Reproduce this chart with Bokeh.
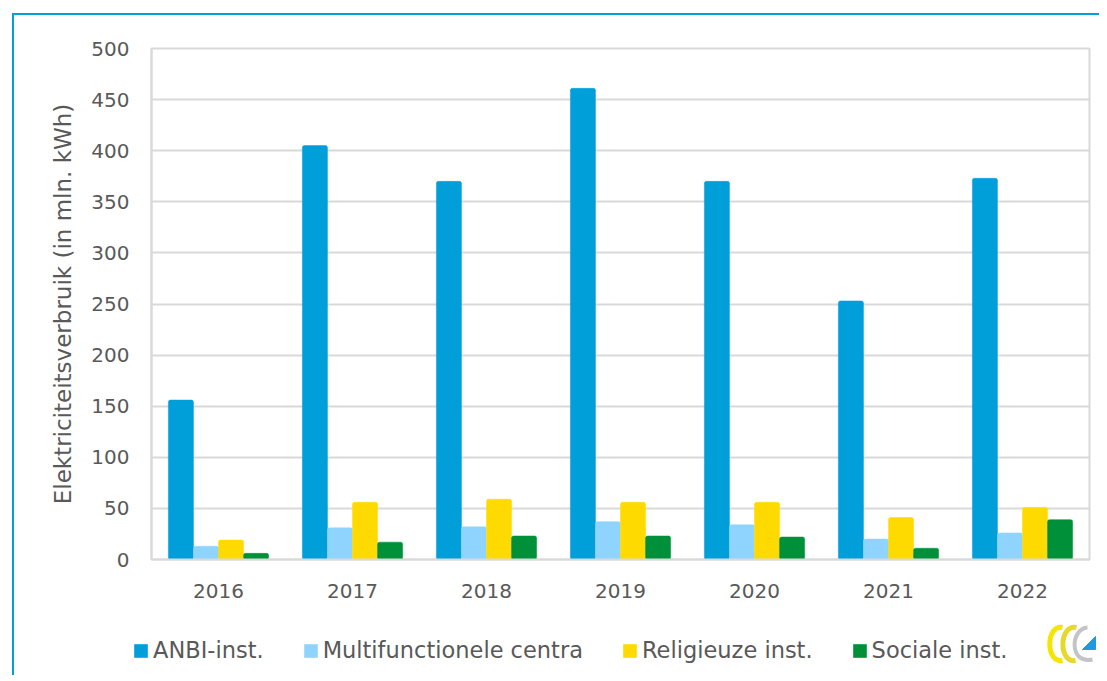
from bokeh.plotting import figure
from bokeh.models import ColumnDataSource, FactorRange, Legend, LegendItem, SingleIntervalTicker, Range1d
from bokeh.transform import dodge
from bokeh.layouts import column
from bokeh.embed import file_html
from bokeh.resources import INLINE

years = ["2016", "2017", "2018", "2019", "2020", "2021", "2022"]
anbi = [156, 405, 370, 461, 370, 253, 373]
multi = [13, 31, 32, 37, 34, 20, 26]
relig = [19, 56, 59, 56, 56, 41, 51]
sociaal = [6, 17, 23, 23, 22, 11, 39]
series_names = ["ANBI-inst.", "Multifunctionele centra", "Religieuze inst.", "Sociale inst."]
series_keys = ["anbi", "multi", "relig", "sociaal"]
colors = ["#009FDA", "#8FD4FF", "#FFDA00", "#00903A"]
y_label = "Elektriciteitsverbruik (in mln. kWh)"

FONT = "DejaVu Sans"
TXT = "#595959"
GRID = "#D9D9D9"
W = 1085
NAN = float("nan")

source = ColumnDataSource(dict(years=years, anbi=anbi, multi=multi, relig=relig, sociaal=sociaal))

# ---------------- main chart ----------------
p = figure(width=W, height=600, x_range=FactorRange(*years), y_range=Range1d(0, 500),
           output_backend="svg", toolbar_location=None,
           min_border_left=137, min_border_right=10, min_border_top=33, min_border_bottom=56)
p.frame_align = False

bw = 0.187
offsets = [-1.5 * bw, -0.5 * bw, 0.5 * bw, 1.5 * bw]
for key, off, col in zip(series_keys, offsets, colors):
    p.vbar(x=dodge("years", off, range=p.x_range), top=key, width=bw, source=source,
           fill_color=col, line_color=col, line_width=0.5, border_radius=2)

p.outline_line_color = GRID
p.outline_line_width = 2
p.background_fill_color = "white"
p.border_fill_color = "white"

p.xgrid.grid_line_color = None
p.ygrid.grid_line_color = GRID
p.ygrid.grid_line_width = 2
p.yaxis.ticker = SingleIntervalTicker(interval=50)

for ax in (p.xaxis, p.yaxis):
    ax.major_tick_line_color = None
    ax.minor_tick_line_color = None
    ax.major_label_text_font = FONT
    ax.major_label_text_font_size = "20px"
    ax.major_label_text_color = TXT
p.xaxis.axis_line_color = GRID
p.xaxis.axis_line_width = 2
p.yaxis.axis_line_color = GRID
p.yaxis.axis_line_width = 2
p.xaxis.major_label_standoff = 18
p.yaxis.major_label_standoff = 16
p.yaxis.axis_label = y_label
p.yaxis.axis_label_text_font = FONT
p.yaxis.axis_label_text_font_size = "23px"
p.yaxis.axis_label_text_font_style = "normal"
p.yaxis.axis_label_text_color = TXT
p.yaxis.axis_label_standoff = 12

# ---------------- legend strip (page pixel coordinates) ----------------
H2 = 60
top2 = 615
q = figure(width=W, height=H2, x_range=Range1d(14, 14 + W), y_range=Range1d(top2 + H2, top2),
           output_backend="svg", toolbar_location=None, x_axis_type=None, y_axis_type=None,
           min_border=0)
q.frame_align = False
q.outline_line_color = None
q.xgrid.grid_line_color = None
q.ygrid.grid_line_color = None
q.background_fill_color = "white"
q.border_fill_color = "white"

swatches = []
for col in colors:
    swatches.append(q.rect(x=[NAN], y=[NAN], width=1, height=1, fill_color=col, line_color=None))

items = [LegendItem(label=n, renderers=[r]) for n, r in zip(series_names, swatches)]
legend = Legend(items=items, orientation="horizontal", location=(118, 12),
                spacing=38, glyph_width=17, glyph_height=17, label_standoff=4,
                padding=0, margin=0, border_line_color=None, background_fill_alpha=0,
                label_text_font=FONT, label_text_font_size="22.5px", label_text_color=TXT)
q.add_layout(legend, "center")

# small decorative logo
q.bezier(x0=[1062], y0=[627], x1=[1062], y1=[660], cx0=[1045], cy0=[624], cx1=[1045], cy1=[663],
         line_color="#F5E600", line_width=5)
q.bezier(x0=[1076], y0=[627], x1=[1075], y1=[660], cx0=[1058], cy0=[624], cx1=[1058], cy1=[663],
         line_color="#E4DA2C", line_width=5)
q.bezier(x0=[1087], y0=[627], x1=[1092], y1=[659], cx0=[1070], cy0=[628], cx1=[1068], cy1=[664],
         line_color="#C4C4C4", line_width=4)
q.patch(x=[1082, 1095, 1095], y=[649, 649, 636], fill_color="#1E9BE0", line_color="#1E9BE0")

layout = column(p, q, margin=(13, 0, 0, 12), spacing=0,
                styles={"border-top": "2px solid #00A0DC", "border-left": "2px solid #00A0DC"})

open("out.html", "w").write(file_html(layout, INLINE))
